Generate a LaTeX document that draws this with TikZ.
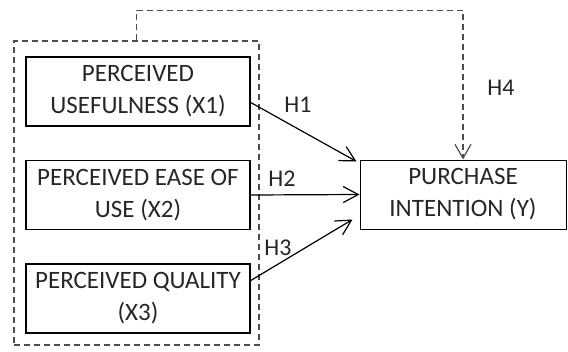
\documentclass[tikz,border=0pt]{standalone}
\usepackage{fontspec}
\setmainfont{Carlito}
\usetikzlibrary{arrows.meta,positioning,calc}
\tikzset{
    varbox/.style={draw, line width=1.5pt, minimum width=224pt, minimum height=69pt, align=center, inner sep=0pt, font=\fontsize{25}{32}\selectfont, text=black!85},
    grpbox/.style={draw=black!70, line width=1.2pt, dash pattern=on 6pt off 4pt, minimum width=245pt, minimum height=304pt, inner sep=0pt},
    hyp/.style={-{Straight Barb[length=15pt, width=16pt, line width=1.2pt]}, line width=1.2pt},
    hdash/.style={-{Straight Barb[length=14pt, width=16pt, line width=1.2pt]}, draw=black!70, line width=1.2pt, dash pattern=on 6pt off 4pt},
    hlabel/.style={font=\fontsize{24}{28}\selectfont, text=black!85, inner sep=0pt}
}
\begin{document}
\begin{tikzpicture}[x=1pt, y=-1pt]
    \useasboundingbox (0,0) rectangle (568,351);

    % independent variables
    \node[grpbox] (grp) at (136.5,193) {};
    \node[varbox] (x1) at (138,91.5) {PERCEIVED\\USEFULNESS (X1)};
    \node[varbox] (x2) at (138,195) {PERCEIVED EASE OF\\USE (X2)};
    \node[varbox] (x3) at (138,298.5) {PERCEIVED QUALITY\\(X3)};

    % dependent variable
    \node[varbox, line width=1pt, minimum width=206pt] (y) at (463,194.5) {PURCHASE\\INTENTION (Y)};

    % hypotheses
    \coordinate (t1) at ($(y.north west)+(-3,2)$);
    \coordinate (t3) at ($(y.south west)+(-7,-10)$);
    \draw[hyp] ([yshift=-11pt]x1.east) -- (t1);
    \draw[hyp] (x2.east) -- (y.west);
    \draw[hyp] ([yshift=18pt]x3.east) -- (t3);
    \draw[hdash] (grp.north) -- ++(0,-30) -| (y.north);

    \node[hlabel] (h1) at (298,105) {H1};
    \node[hlabel] (h2) at (282,179) {H2};
    \node[hlabel] (h3) at (278,248) {H3};
    \node[hlabel] (h4) at (501,88) {H4};
\end{tikzpicture}
\end{document}
